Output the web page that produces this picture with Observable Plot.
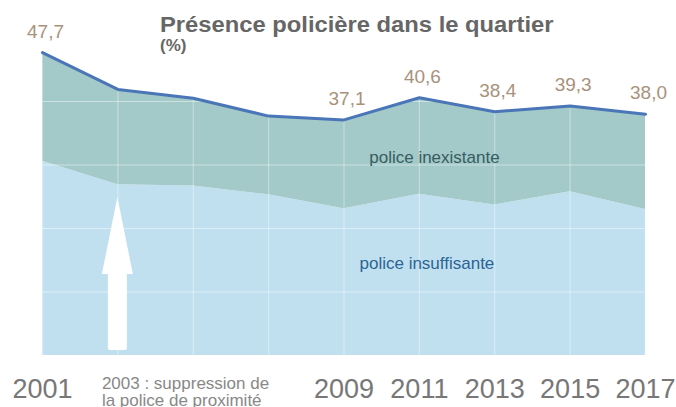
<!DOCTYPE html>
<html>
<head>
<meta charset="utf-8">
<script src="https://cdn.jsdelivr.net/npm/d3@7"></script>
<script src="https://cdn.jsdelivr.net/npm/@observablehq/plot@0.6"></script>
<style>
  html, body { margin: 0; padding: 0; background: #fff; }
  #wrap { position: relative; width: 676px; height: 407px; overflow: hidden; font-family: "Liberation Sans", Arial, sans-serif; }
  #title { position: absolute; left: 160px; top: 14px; font-size: 22px; font-weight: bold; color: #666; line-height: 1; white-space: nowrap; transform: scaleX(1.08); transform-origin: left top; }
  #unit { position: absolute; left: 160px; top: 37px; font-size: 17px; font-weight: bold; color: #666; line-height: 1; }
  #chart { position: absolute; left: 0; top: 0; }
</style>
</head>
<body>
<div id="wrap">
  <div id="chart"></div>
  <div id="title">Présence policière dans le quartier</div>
  <div id="unit">(%)</div>
</div>
<script>
// ---- data ----
const years = [2001, 2003, 2005, 2007, 2009, 2011, 2013, 2015, 2017];
const total = [47.7, 41.9, 40.5, 37.7, 37.1, 40.6, 38.4, 39.3, 38.0];          // insuffisante + inexistante
const insuffisante = [30.6, 26.9, 26.7, 25.3, 23.1, 25.4, 23.7, 25.8, 23.0];
const labelledYears = [2001, 2009, 2011, 2013, 2015, 2017];
const tickYears = [2001, 2009, 2011, 2013, 2015, 2017];
const seriesLabels = [
  {name: "police inexistante", year: 2011.4, value: 31.1},
  {name: "police insuffisante", year: 2011.2, value: 14.55}
];
const annotation = {year: 2003, from: 0.8, headBase: 12.75, tip: 24.9,
  text: "2003 : suppression de\nla police de proximité"};

const data = years.map((y, i) => ({year: y, total: total[i], insuf: insuffisante[i]}));
const labelled = data.filter(d => labelledYears.includes(d.year));
const fmt = v => v.toFixed(1).replace(".", ",");

const arrowMark = (index, scales) => {
  const x = scales.x(annotation.year);
  const yb = scales.y(annotation.from), yh = scales.y(annotation.headBase), yt = scales.y(annotation.tip);
  const g = d3.create("svg:g");
  g.append("path")
    .attr("fill", "white")
    .attr("d", `M${x - 9.5},${yb - 2} L${x - 9.5},${yh} L${x - 15.5},${yh} L${x},${yt} L${x + 15.5},${yh} L${x + 9.5},${yh} L${x + 9.5},${yb - 2} Q${x + 9.5},${yb} ${x + 7.5},${yb} L${x - 7.5},${yb} Q${x - 9.5},${yb} ${x - 9.5},${yb - 2} Z`);
  return g.node();
};

const chart = Plot.plot({
  width: 676,
  height: 407,
  marginLeft: 42,
  marginRight: 31,
  marginTop: 37.5,
  marginBottom: 52,
  style: {fontFamily: "Liberation Sans, Arial, sans-serif", background: "transparent", overflow: "visible"},
  x: {domain: [2001, 2017]},
  y: {domain: [0, 50]},
  marks: [
    Plot.areaY(data, {x: "year", y1: 0, y2: "insuf", fill: "#c1e0ef"}),
    Plot.areaY(data, {x: "year", y1: "insuf", y2: "total", fill: "#a3c9c9"}),
    Plot.gridY([0, 10, 20, 30, 40], {stroke: "white", strokeOpacity: 0.45, strokeWidth: 1.2}),
    Plot.ruleX(data, {x: "year", y1: 0, y2: "total", stroke: "white", strokeOpacity: 0.35, strokeWidth: 1.2}),
    arrowMark,
    Plot.lineY(data, {x: "year", y: "total", stroke: "#4a76b8", strokeWidth: 3}),
    Plot.text(labelled, {x: "year", y: "total", text: d => fmt(d.total), lineAnchor: "bottom", dy: -15, dx: 3, fontSize: 19, fill: "#a8927c"}),
    Plot.text(seriesLabels.slice(0, 1), {x: "year", y: "value", text: "name", fontSize: 17, fill: "#365d60"}),
    Plot.text(seriesLabels.slice(1), {x: "year", y: "value", text: "name", fontSize: 17, fill: "#2b6496"}),
    Plot.text([annotation], {x: "year", y: 0, text: "text", textAnchor: "start", lineAnchor: "top", dx: -16, dy: 21, fontSize: 17, lineHeight: 1.0, fill: "#888"}),
    Plot.axisX({ticks: tickYears, tickFormat: d => String(d), tickSize: 0, tickPadding: 23.5, fontSize: 27, fill: "#777", label: null}),
    Plot.axisY({ticks: [], label: null, tickSize: 0})
  ]
});
document.getElementById("chart").appendChild(chart);
</script>
</body>
</html>
